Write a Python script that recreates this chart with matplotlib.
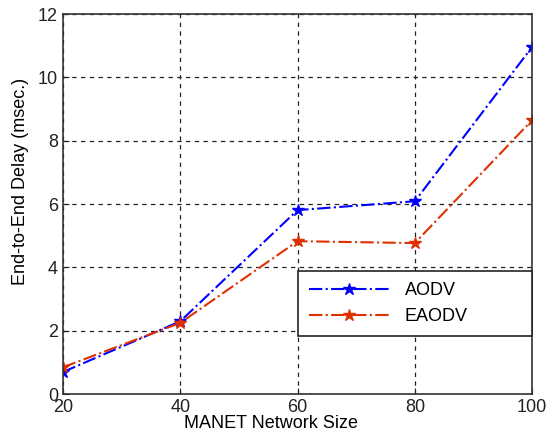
import matplotlib
matplotlib.use("Agg")
import matplotlib.pyplot as plt

sizes = [20, 40, 60, 80, 100]
aodv = [0.70, 2.30, 5.81, 6.09, 10.96]
eaodv = [0.85, 2.25, 4.83, 4.77, 8.65]
xticks = [20, 40, 60, 80, 100]
yticks = [0, 2, 4, 6, 8, 10, 12]

plt.rcParams['font.family'] = ['Liberation Sans', 'DejaVu Sans']

fig = plt.figure(figsize=(5.52, 4.38), dpi=100)
ax = fig.add_axes([0.114, 0.100, 0.850, 0.868])

ax.plot(sizes, aodv, color='#0000ff', linestyle='-.', linewidth=1.5,
        marker='*', markersize=9, label='AODV')
ax.plot(sizes, eaodv, color='#e03000', linestyle='-.', linewidth=1.5,
        marker='*', markersize=9, label='EAODV')

ax.set_xlim(20, 100)
ax.set_ylim(0, 12)
ax.set_xticks(xticks)
ax.set_yticks(yticks)
ax.tick_params(direction='in', labelsize=13, length=4, colors='#222222')
ax.grid(True, linestyle=(0, (3.5, 3.5)), color='#222222', linewidth=0.9)
for s in ax.spines.values():
    s.set_color('#333333')
    s.set_linewidth(1.2)

ax.set_xlabel('MANET Network Size', fontsize=13)
ax.set_ylabel('End-to-End Delay (msec.)', fontsize=13)
ax.xaxis.set_label_coords(0.443, -0.055)
ax.yaxis.set_label_coords(-0.072, 0.56)

leg = ax.legend(loc='lower right', bbox_to_anchor=(0.501, 0.153, 0.499, 0.176),
                mode='expand', fontsize=13, fancybox=False, framealpha=1,
                edgecolor='#222222', handlelength=4.5, borderpad=0.6,
                labelspacing=0.5, borderaxespad=0)
leg.get_frame().set_linewidth(1.2)

fig.savefig('out.png', dpi=100)
